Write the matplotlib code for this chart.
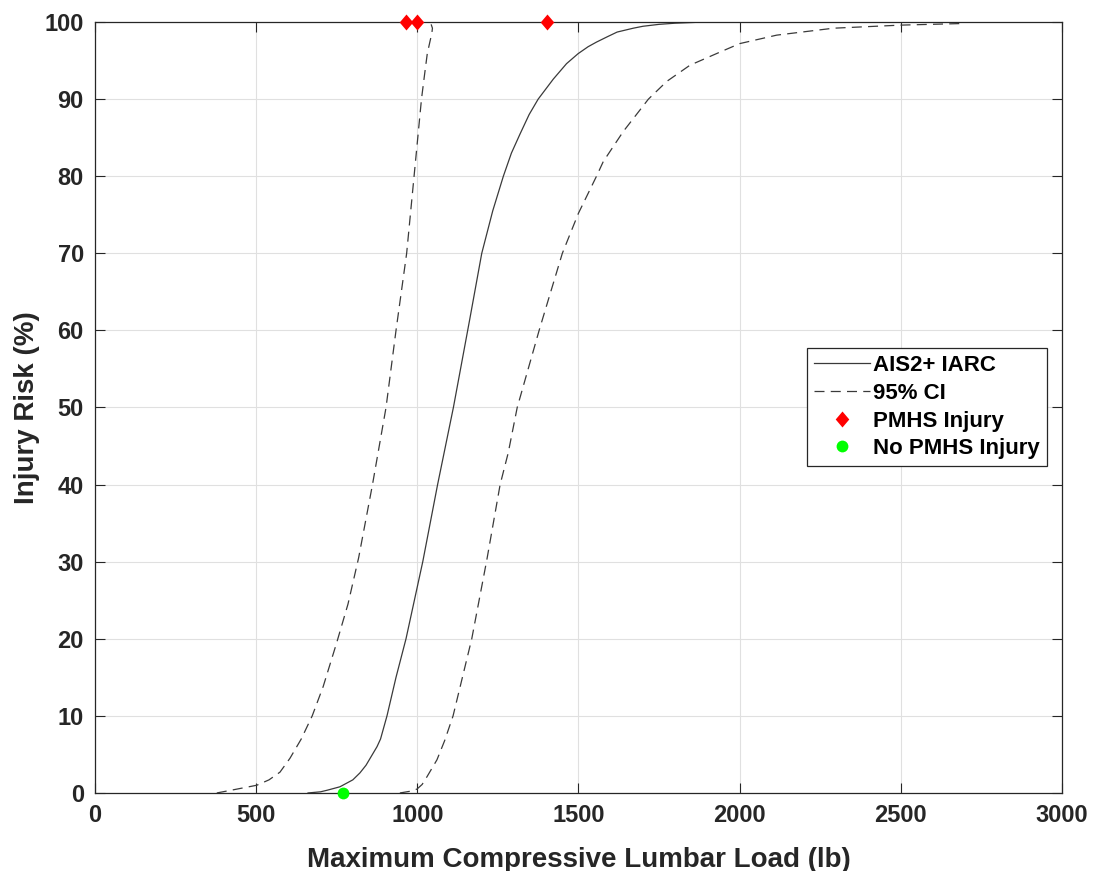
import matplotlib
matplotlib.use("Agg")
import matplotlib.pyplot as plt

# Main risk curve (AIS2+ IARC)
iarc_x = [661, 700, 720, 760, 800, 822, 841, 875, 886, 906, 934, 965, 1017, 1063,
          1112, 1163, 1200, 1234, 1267, 1292, 1319, 1347, 1375, 1422, 1463, 1499,
          1530, 1556, 1590, 1620, 1670, 1700, 1750, 1800, 1860]
iarc_y = [0, 0.15, 0.35, 0.8, 1.7, 2.6, 3.6, 6.0, 7.0, 10, 15, 20, 30, 40,
          50, 61.5, 70, 75.5, 80, 83.0, 85.5, 88.0, 90.0, 92.6, 94.6, 95.9,
          96.8, 97.4, 98.1, 98.7, 99.2, 99.45, 99.7, 99.85, 99.95]

# Lower 95% CI bound (left dashed)
ci_lo_x = [378, 428, 502, 540, 574, 605, 640, 674, 708, 750, 785, 818, 861, 903,
           934, 967, 990, 1013, 1022, 1031, 1040, 1045, 1047, 1043]
ci_lo_y = [0, 0.4, 1.0, 1.7, 2.7, 4.5, 7.0, 10, 13.8, 19.5, 24.5, 30.5, 40, 50,
           60, 70, 80, 90, 93, 95.9, 97.6, 98.5, 99.2, 99.7]

# Upper 95% CI bound (right dashed)
ci_hi_x = [946, 975, 999, 1015, 1030, 1061, 1085, 1111, 1140, 1169, 1216, 1257,
           1282, 1310, 1378, 1406, 1450, 1500, 1556, 1577, 1639, 1717, 1774,
           1846, 1939, 2000, 2115, 2291, 2500, 2684]
ci_hi_y = [0, 0.2, 0.5, 1.1, 2.1, 4.3, 6.8, 10, 15, 20, 30.3, 40,
           44.1, 50, 60, 63.9, 70, 75.2, 80, 81.9, 85.8, 90, 92.3,
           94.4, 96.1, 97.2, 98.3, 99.2, 99.6, 99.8]

# Test points
inj_x = [964, 1000, 1403]
inj_y = [100, 100, 100]
noinj_x = [770]
noinj_y = [0]

xticks = [0, 500, 1000, 1500, 2000, 2500, 3000]
yticks = [0, 10, 20, 30, 40, 50, 60, 70, 80, 90, 100]

plt.rcParams['font.family'] = ['Liberation Sans', 'DejaVu Sans']
plt.rcParams['font.weight'] = 'bold'

fig = plt.figure(figsize=(10.94, 8.71), dpi=100)
ax = fig.add_axes([0.0868, 0.0896, 0.8839, 0.8851])

lc = '#3a3a3a'
dash = (0, (8, 5))
diamond = [(0, 1), (0.85, 0), (0, -1), (-0.85, 0), (0, 1)]

ax.plot(iarc_x, iarc_y, color=lc, lw=0.9, label='AIS2+ IARC')
ax.plot(ci_lo_x, ci_lo_y, color=lc, lw=0.9, linestyle=dash, label='95% CI')
ax.plot(ci_hi_x, ci_hi_y, color=lc, lw=0.9, linestyle=dash)
ax.plot(inj_x, inj_y, linestyle='none', marker=diamond, color='#ff0000', markersize=11.5,
        markeredgewidth=0, clip_on=False, zorder=5, label='PMHS Injury')
ax.plot(noinj_x, noinj_y, linestyle='none', marker='o', color='#00ff00', markersize=8.5,
        markeredgewidth=0, clip_on=False, zorder=5, label='No PMHS Injury')

ax.set_xlim(0, 3000)
ax.set_ylim(0, 100)
ax.set_xticks(xticks)
ax.set_yticks(yticks)
ax.grid(True, color='#e0e0e0', lw=0.8)
ax.set_axisbelow(True)
ax.tick_params(direction='in', length=7, width=0.8, color='#262626',
               top=True, right=True, labelsize=17, labelcolor='#262626', pad=8)
for lab in ax.get_xticklabels() + ax.get_yticklabels():
    lab.set_fontweight('bold')
for s in ax.spines.values():
    s.set_color('#262626')
    s.set_linewidth(0.9)

ax.set_xlabel('Maximum Compressive Lumbar Load (lb)', fontsize=20, fontweight='bold',
              color='#262626', labelpad=14)
ax.set_ylabel('Injury Risk (%)', fontsize=20, fontweight='bold', color='#262626',
              labelpad=3)

leg = ax.legend(loc='upper right', bbox_to_anchor=(0.9845, 0.577), borderaxespad=0,
                prop={'size': 16, 'weight': 'bold'}, fancybox=False, framealpha=1,
                edgecolor='#262626', handlelength=2.5, handletextpad=0.15,
                labelspacing=0.3, borderpad=0.32)
leg.get_frame().set_linewidth(0.9)

fig.savefig('out.png', dpi=100)
